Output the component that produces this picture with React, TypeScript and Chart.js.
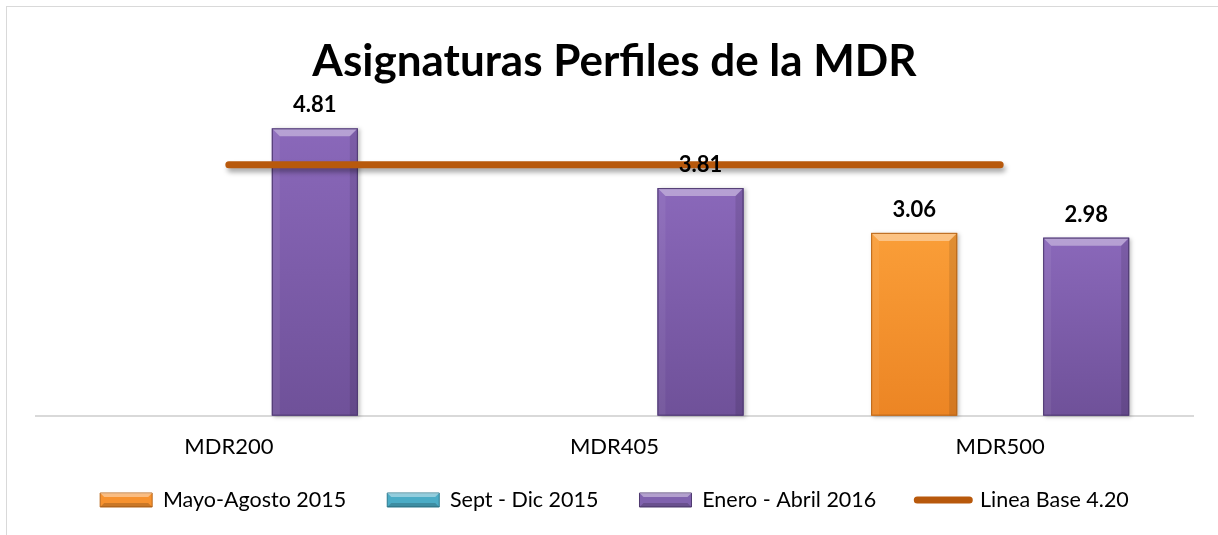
import React, { useEffect, useRef } from "react";
import { Chart, registerables } from "chart.js";

Chart.register(...registerables);

const categories = ["MDR200", "MDR405", "MDR500"];
const mayoAgosto2015: (number | null)[] = [null, null, 3.06];
const septDic2015: (number | null)[] = [null, null, null];
const eneroAbril2016: (number | null)[] = [4.81, 3.81, 2.98];
const lineaBase: number[] = [4.2, 4.2, 4.2];
const seriesNames = ["Mayo-Agosto 2015", "Sept - Dic 2015", "Enero - Abril 2016", "Linea Base 4.20"];
const chartTitle = "Asignaturas Perfiles de la MDR";

const FONT = "Lato, 'Open Sans', sans-serif";
const W = 1211;
const H = 528;
const LINE_COLOR = "#B8590C";
const LEGEND_FONT = 21.5;

const barStyles = [
  { face: "#F7922F", top: "#FA9E38", bottom: "#EC8524", edge: "#B8661A" },
  { face: "#4BACC6", top: "#5CC3DC", bottom: "#3E98B0", edge: "#2E7A8F" },
  { face: "#8062AE", top: "#8A68BA", bottom: "#6F5199", edge: "#4E3A70" },
];

function poly(ctx: CanvasRenderingContext2D, pts: number[][], color: string) {
  ctx.beginPath();
  ctx.moveTo(pts[0][0], pts[0][1]);
  for (let k = 1; k < pts.length; k++) ctx.lineTo(pts[k][0], pts[k][1]);
  ctx.closePath();
  ctx.fillStyle = color;
  ctx.fill();
}

const effectsPlugin = {
  id: "effects",
  afterLayout(chart: any) {
    const xs = chart.scales.x;
    if (xs) xs._computeLabelArea = () => undefined;
  },
  beforeDatasetDraw(chart: any, args: any) {
    const ds = chart.data.datasets[args.index];
    if (ds.type === "line") {
      const ctx = chart.ctx;
      ctx.save();
      ctx.shadowColor = "rgba(0,0,0,0.35)";
      ctx.shadowBlur = 5;
      ctx.shadowOffsetX = 2;
      ctx.shadowOffsetY = 4;
    }
  },
  afterDatasetDraw(chart: any, args: any) {
    const ds = chart.data.datasets[args.index];
    const ctx = chart.ctx;
    if (ds.type === "line") {
      ctx.restore();
      return;
    }
    const st = barStyles[args.index];
    args.meta.data.forEach((el: any, i: number) => {
      if (ds.data[i] == null) return;
      const p = el.getProps(["x", "y", "base", "width"], true);
      const l = p.x - p.width / 2;
      const r = p.x + p.width / 2;
      const t = p.y;
      const b = p.base;
      const s = 8;
      ctx.save();
      ctx.shadowColor = "rgba(0,0,0,0.25)";
      ctx.shadowBlur = 4;
      ctx.shadowOffsetX = 2;
      ctx.shadowOffsetY = 1;
      const g = ctx.createLinearGradient(0, t, 0, b);
      g.addColorStop(0, st.top);
      g.addColorStop(1, st.bottom);
      ctx.fillStyle = g;
      ctx.fillRect(l, t, r - l, b - t);
      ctx.shadowColor = "transparent";
      poly(ctx, [[l, t], [r, t], [r - s, t + s], [l + s, t + s]], "rgba(255,255,255,0.38)");
      poly(ctx, [[l, t], [l + s, t + s], [l + s, b], [l, b]], "rgba(255,255,255,0.06)");
      poly(ctx, [[r, t], [r - s, t + s], [r - s, b], [r, b]], "rgba(0,0,0,0.10)");
      ctx.strokeStyle = st.edge;
      ctx.lineWidth = 1;
      ctx.strokeRect(l + 0.5, t + 0.5, r - l - 1, b - t - 1);
      ctx.restore();
    });
  },
  afterDatasetsDraw(chart: any) {
    const ctx = chart.ctx;
    ctx.save();
    ctx.font = `bold 22px ${FONT}`;
    ctx.fillStyle = "#000";
    ctx.textAlign = "center";
    ctx.textBaseline = "middle";
    chart.data.datasets.forEach((ds: any, di: number) => {
      if (ds.type === "line") return;
      const meta = chart.getDatasetMeta(di);
      meta.data.forEach((el: any, i: number) => {
        const v = ds.data[i];
        if (v == null) return;
        const p = el.getProps(["x", "y"], true);
        ctx.fillText(Number(v).toFixed(2), p.x, p.y - 23);
      });
    });
    ctx.restore();
  },
  afterDraw(chart: any) {
    const lg = chart.legend;
    if (!lg || !lg.legendHitBoxes) return;
    const ctx = chart.ctx;
    lg.legendItems.forEach((it: any, i: number) => {
      if (it.datasetIndex > 2) return;
      const hb = lg.legendHitBoxes[i];
      const l = hb.left;
      const r = hb.left + 52;
      const cy = hb.top + LEGEND_FONT / 2;
      const t = cy - 7;
      const b = cy + 7;
      const s = 4;
      ctx.save();
      poly(ctx, [[l, t], [r, t], [r - s, t + s], [l + s, t + s]], "rgba(255,255,255,0.4)");
      poly(ctx, [[l, b], [r, b], [r - s, b - s], [l + s, b - s]], "rgba(0,0,0,0.18)");
      ctx.restore();
    });
  },
};

export default function App() {
  const ref = useRef<HTMLCanvasElement | null>(null);

  useEffect(() => {
    if (!ref.current) return;
    const defaultGen = (Chart as any).defaults.plugins.legend.labels.generateLabels;
    const chart = new Chart(ref.current, {
      type: "bar",
      data: {
        labels: categories,
        datasets: [
          {
            type: "bar",
            label: seriesNames[0],
            data: mayoAgosto2015,
            backgroundColor: barStyles[0].face,
            borderColor: barStyles[0].edge,
            borderWidth: 0,
            order: 1,
          },
          {
            type: "bar",
            label: seriesNames[1],
            data: septDic2015,
            backgroundColor: barStyles[1].face,
            borderColor: barStyles[1].edge,
            borderWidth: 0,
            order: 1,
          },
          {
            type: "bar",
            label: seriesNames[2],
            data: eneroAbril2016,
            backgroundColor: barStyles[2].face,
            borderColor: barStyles[2].edge,
            borderWidth: 0,
            order: 1,
          },
          {
            type: "line",
            label: seriesNames[3],
            data: lineaBase,
            borderColor: LINE_COLOR,
            backgroundColor: LINE_COLOR,
            borderWidth: 7,
            borderCapStyle: "round",
            pointRadius: 0,
            pointHoverRadius: 0,
            fill: false,
            order: 0,
          },
        ] as any,
      },
      options: {
        responsive: false,
        maintainAspectRatio: false,
        animation: false,
        layout: { padding: { left: 29, right: 25, top: 0, bottom: 14.25 } },
        datasets: { bar: { categoryPercentage: 0.669, barPercentage: 1.0 } } as any,
        scales: {
          x: {
            offset: true,
            grid: { display: false, drawTicks: true, tickLength: 30.4 },
            border: { display: true, color: "#d9d9d9", width: 2 },
            ticks: {
              color: "#000",
              font: { family: FONT, size: 22, lineHeight: 0.1 },
              padding: 0,
            },
          },
          y: { display: false, min: 0, max: 5 },
        },
        plugins: {
          tooltip: { enabled: false },
          title: {
            display: true,
            text: chartTitle,
            color: "#000",
            font: { family: FONT, size: 44, weight: "bold", lineHeight: 1.2 },
            padding: { top: 28.6, bottom: 28.6 },
          },
          legend: {
            position: "bottom",
            labels: {
              usePointStyle: true,
              pointStyleWidth: 52,
              boxHeight: 14,
              padding: 41,
              color: "#000",
              font: { family: FONT, size: LEGEND_FONT },
              sort: (a: any, b: any) => a.datasetIndex - b.datasetIndex,
              generateLabels: (c: any) => {
                const items = defaultGen(c);
                return items.map((it: any) =>
                  it.datasetIndex === 3
                    ? { ...it, pointStyle: "line", lineWidth: 7, lineCap: "round", strokeStyle: LINE_COLOR }
                    : { ...it, pointStyle: "rect", lineWidth: 1 }
                );
              },
            },
          },
        },
      } as any,
      plugins: [effectsPlugin as any],
    });
    return () => chart.destroy();
  }, []);

  return (
    <div
      style={{
        position: "fixed",
        left: 6,
        top: 6,
        width: 1212,
        height: 529,
        boxSizing: "border-box",
        borderTop: "1px solid #d9d9d9",
        borderLeft: "1px solid #d9d9d9",
        background: "#fff",
      }}
    >
      <canvas ref={ref} width={W} height={H} style={{ display: "block", width: W, height: H }} />
    </div>
  );
}
